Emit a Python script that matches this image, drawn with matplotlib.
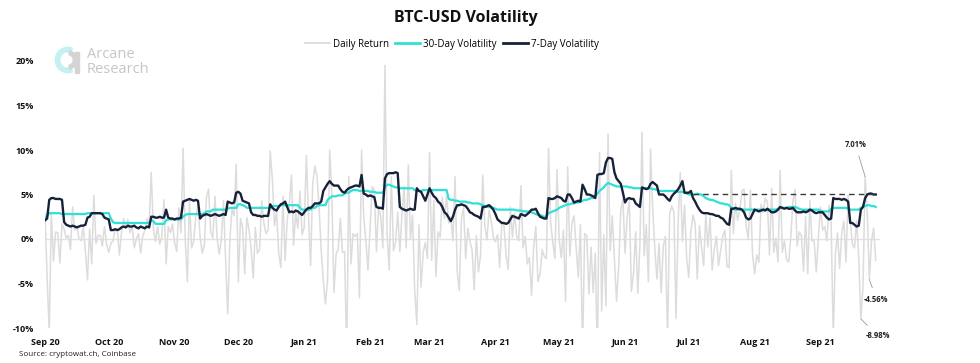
"""BTC-USD volatility chart: daily return, 30-day and 7-day volatility."""
import matplotlib
matplotlib.use("Agg")
import matplotlib.pyplot as plt
import matplotlib.dates as mdates
import matplotlib.ticker as mticker
from matplotlib.lines import Line2D
from matplotlib.patches import Wedge, Rectangle
import pandas as pd

plt.rcParams["font.family"] = ["Open Sans", "DejaVu Sans"]

START = "2020-09-01"

# ---- daily return (%), one row per month, Sep 2020 .. Sep 2021 ----
daily_return = [
    2.9, -4.3, -10.5, 3.0, -2.5, 0.8, 0.7, -2.7, 1.7, 1.1, 0.1, 0.4, -1.2, 3.6, 1.0, 1.5, 0.0, -0.2, 1.4, -1.4,
    -4.6, 1.1, -2.8, 4.9, -0.5, 0.4, 0.4, -0.8, 1.4, -0.6,
    -1.5, -0.5, -0.2, 1.1, 1.1, -1.8, 0.7, 2.3, 1.3, 2.2, 0.7, 1.5, -1.0, 0.0, 0.6, -1.6, 0.3, 1.0, 2.3, 1.4,
    7.5, 1.2, -0.3, 1.4, -0.6, 0.3, 4.4, -2.8, 1.4, 0.7, 1.7,
    -0.4, -1.4, 3.5, 0.7, 10.2, -0.1, -4.8, 4.4, -1.0, -0.2, 2.6, 3.7, 0.3, -1.6, -0.7, 4.7, 5.6, 0.8, 0.1, 4.8,
    0.1, -1.7, -0.1, 4.3, -2.3, -8.4, -0.1, 3.4, 2.6, 8.4,
    -4.8, 2.3, 1.3, -3.9, 2.4, 1.1, -1.0, -4.4, 1.3, -1.6, -1.2, 4.3, 1.8, 0.6, 1.0, 9.9, 6.7, 1.5, 3.1, -1.6,
    -3.2, 4.8, -2.4, 2.1, 3.9, 7.2, -0.7, 3.0, 1.2, 5.4, 0.5,
    1.3, 9.4, 2.7, -3.0, 6.2, 8.2, 7.1, 3.6, -1.3, -4.7, -7.3, -4.6, 10.0, 5.0, -6.0, -1.7, -1.1, 2.3, -1.5, -1.4,
    -13.3, 7.0, -2.8, 0.6, 0.3, 0.6, -6.6, 10.0, 2.5, -0.1, -3.5,
    1.3, 5.9, 5.5, -1.4, 3.7, 2.5, -1.0, 19.5, 0.6, -3.5, 7.0, -1.3, -0.4, 3.0, -1.4, 2.7, 5.9, -1.0, 8.3, 0.0,
    2.7, -5.7, -9.6, 1.6, -5.4, -1.5, -0.4, -2.2,
    9.7, -2.4, 4.3, -4.2, 0.8, 0.2, 4.7, 2.3, 4.8, 1.8, 2.5, -0.2, 7.0, -3.6, -5.8, 2.3, 3.5, -2.2, 1.2, -0.3,
    -1.2, -5.7, 0.4, -3.7, -1.9, 7.2, 1.5, -0.1, 3.2, 2.1, 0.2,
    -0.3, 0.5, -3.2, 1.9, 1.5, -1.8, -3.4, 3.6, 0.2, 2.9, 0.3, -0.2, 6.0, -1.0, 0.3, -2.8, -2.1, -6.3, -0.9, 1.4,
    -4.8, -3.9, -1.2, -2.0, -2.2, 10.2, 1.9, -0.4, -2.2, 7.8,
    0.0, -2.1, 1.0, -7.0, 8.1, -1.9, 1.8, 2.6, -1.0, -4.3, 1.6, -12.9, 0.6, 0.4, -6.2, -0.9, -6.0, -1.6, -13.7, 9.7,
    -8.1, 0.5, -7.5, 11.8, -1.3, 2.6, -2.3, -7.0, -3.1, 3.2, 4.5,
    -1.6, 2.5, 4.3, -5.9, -3.8, 0.8, -6.1, -0.6, 12.0, -1.9, 1.6, -4.8, 10.1, 3.6, -1.0, -4.5, -0.5, -6.0, -0.8, 0.3,
    -11.2, 2.8, 3.7, 3.0, -8.9, 1.9, 7.5, -0.3, 3.8, -2.2,
    -4.3, 0.9, 2.7, 1.7, -4.5, 1.5, -0.9, -3.0, 2.7, -0.9, 2.4, -3.5, -1.2, 0.3, -3.0, -1.3, 0.3, 1.0, -3.1, -3.2,
    7.7, 0.6, 4.0, 2.1, 3.2, 5.4, 5.6, 1.5, 0.0, 5.5, -1.7,
    -3.9, -1.8, -2.6, 3.9, 3.0, 4.6, 4.2, -1.8, 5.7, -1.5, 0.1, -2.6, 7.7, -1.5, -0.2, -2.3, -2.6, 0.2, 4.2, 5.6,
    -0.8, 0.8, 0.4, -3.6, 2.5, -3.9, 4.3, -0.2, -0.2, -3.7, 0.2,
    3.6, 1.0, 1.4, -0.2, 3.8, 1.7, -11.0, -1.7, 0.7, -3.3, 0.7, 2.0, -2.6, 4.9, 2.1, -0.6, -1.0, 2.1, -2.1, -8.98,
    -5.4, 7.01, 3.0, -4.56, -0.2, 1.2, -2.4,
]

# ---- 30-day volatility (%) ----
vol_30d = [
    2.3, 2.6, 2.9, 2.9, 2.9, 2.9, 2.9, 2.9, 2.8, 2.8, 2.8, 2.8, 2.8, 2.8, 2.8, 2.8, 2.8, 2.8, 2.8, 2.8,
    2.9, 2.9, 2.9, 2.9, 2.9, 2.9, 2.9, 2.9, 2.9, 2.9,
    2.9, 2.3, 1.9, 1.8, 1.8, 1.8, 1.8, 1.8, 1.8, 1.8, 1.8, 1.8, 1.8, 1.8, 1.8, 1.8, 1.8, 1.8, 1.8, 1.8,
    2.1, 2.0, 1.7, 1.7, 1.7, 1.7, 1.7, 2.1, 2.2, 2.2, 2.2,
    2.2, 2.2, 2.2, 2.2, 2.5, 2.7, 2.8, 2.8, 2.8, 2.8, 2.8, 2.8, 2.8, 2.8, 2.9, 3.1, 3.1, 3.1, 3.3, 3.3,
    3.3, 3.3, 3.3, 3.3, 3.3, 3.4, 3.5, 3.5, 3.5, 3.5,
    3.9, 3.9, 3.8, 3.7, 3.5, 3.5, 3.5, 3.5, 3.5, 3.5, 3.5, 3.5, 3.5, 3.5, 3.5, 3.6, 3.7, 3.7, 3.7, 3.7,
    3.8, 3.8, 3.8, 3.8, 3.8, 3.8, 3.8, 3.8, 3.8, 3.5, 3.3,
    3.3, 3.3, 3.3, 3.3, 3.5, 3.5, 3.7, 3.8, 3.8, 3.8, 3.8, 4.4, 4.6, 4.8, 4.8, 4.8, 4.9, 4.9, 4.9, 5.1,
    5.2, 5.2, 5.4, 5.5, 5.5, 5.5, 5.4, 5.4, 5.4, 5.4, 5.4,
    5.3, 5.3, 5.3, 5.2, 5.2, 5.2, 5.2, 5.8, 6.1, 6.1, 6.0, 5.9, 5.8, 5.8, 5.7, 5.7, 5.7, 5.7, 5.7, 5.7,
    5.7, 5.5, 5.4, 5.4, 5.4, 5.5, 5.5, 5.5,
    5.5, 5.5, 5.5, 5.5, 5.5, 5.5, 5.5, 5.5, 5.5, 4.5, 4.4, 4.4, 4.3, 4.3, 4.2, 4.2, 4.2, 4.2, 4.1, 4.1,
    4.0, 4.0, 4.0, 4.0, 3.9, 3.8, 3.7, 3.6, 3.6, 3.5, 3.5,
    3.4, 3.3, 3.3, 3.3, 3.3, 3.3, 3.3, 3.3, 3.3, 3.3, 3.2, 3.2, 3.2, 3.1, 3.1, 3.1, 3.1, 3.0, 2.9, 2.8,
    2.7, 2.7, 2.6, 2.5, 2.5, 2.9, 3.0, 3.1, 3.2, 3.3,
    3.5, 3.6, 3.7, 3.8, 3.9, 3.9, 4.0, 4.0, 4.1, 4.1, 4.2, 4.3, 4.4, 4.4, 4.5, 4.6, 4.6, 4.8, 5.1, 5.4,
    5.6, 5.8, 6.1, 6.3, 6.2, 6.1, 6.0, 5.9, 5.9, 5.9, 5.9,
    5.9, 5.9, 5.8, 5.8, 5.7, 5.7, 5.7, 5.7, 5.7, 5.7, 5.7, 5.7, 5.7, 5.6, 5.6, 5.5, 5.4, 5.4, 5.4, 5.4,
    5.4, 5.4, 5.4, 5.4, 5.4, 5.3, 5.3, 5.3, 5.2, 5.1,
    5.0, 5.0, 5.0, 5.0, 5.1, 5.0, 5.0, 4.8, 4.6, 4.5, 4.4, 4.4, 4.3, 4.2, 4.1, 4.0, 4.0, 3.9, 3.9, 3.8,
    3.5, 3.4, 3.3, 3.3, 3.3, 3.3, 3.3, 3.3, 3.3, 3.3, 3.3,
    3.3, 3.3, 3.3, 3.3, 3.3, 3.3, 3.3, 3.3, 3.3, 3.3, 3.3, 3.4, 3.5, 3.5, 3.5, 3.5, 3.6, 3.6, 3.6, 3.6,
    3.5, 3.4, 3.3, 3.3, 3.3, 3.3, 3.3, 3.3, 3.3, 3.3, 3.3,
    3.2, 3.1, 3.1, 3.1, 3.1, 3.4, 3.5, 3.5, 3.5, 3.5, 3.5, 3.5, 3.5, 3.4, 3.3, 3.3, 3.3, 3.3, 3.3, 3.5,
    3.6, 3.7, 3.8, 3.8, 3.7, 3.7, 3.6,
]

# ---- 7-day volatility (%) ----
vol_7d = [
    2.1, 2.3, 4.4, 4.6, 4.6, 4.5, 4.5, 4.5, 4.4, 1.9, 1.6, 1.5, 1.4, 1.5, 1.4, 1.3, 1.4, 1.5, 1.5, 1.6,
    2.4, 2.5, 2.9, 2.9, 2.9, 2.9, 2.9, 2.8, 2.4, 2.3,
    2.2, 1.0, 1.0, 1.1, 1.0, 1.1, 1.3, 1.4, 1.3, 1.5, 1.4, 1.4, 1.5, 1.3, 1.2, 1.4, 1.3, 1.2, 1.4, 1.3,
    2.5, 2.5, 2.4, 2.4, 2.5, 2.4, 2.4, 3.3, 2.4, 2.3, 2.3,
    2.2, 2.3, 2.3, 2.4, 4.2, 4.3, 4.4, 4.5, 4.4, 4.3, 4.4, 4.3, 2.3, 2.6, 2.7, 2.8, 2.7, 2.6, 2.7, 2.8,
    2.7, 2.6, 2.7, 2.8, 2.7, 4.2, 4.1, 4.0, 4.1, 5.2,
    5.3, 5.1, 4.3, 4.2, 4.1, 4.0, 3.0, 2.7, 2.7, 2.6, 2.6, 2.5, 2.6, 2.6, 2.6, 3.9, 3.5, 3.3, 3.2, 3.6,
    3.9, 4.0, 4.2, 3.6, 3.0, 3.1, 3.0, 3.2, 3.1, 2.9, 2.7,
    3.0, 3.3, 3.5, 3.5, 3.7, 4.0, 4.0, 4.0, 4.2, 5.4, 5.8, 6.2, 6.5, 6.2, 6.0, 6.0, 6.0, 5.6, 5.3, 5.2,
    5.5, 5.7, 5.8, 5.9, 6.0, 6.0, 5.9, 7.2, 5.1, 5.0, 4.8,
    4.9, 4.8, 4.7, 3.6, 3.5, 3.5, 3.4, 6.8, 7.3, 7.4, 7.4, 7.4, 7.5, 7.4, 3.6, 3.4, 3.3, 3.2, 3.3, 3.4,
    3.3, 3.3, 5.7, 5.4, 5.3, 4.8, 4.3, 5.0,
    5.7, 5.2, 4.8, 4.6, 4.2, 4.0, 3.6, 3.0, 2.8, 2.4, 2.0, 2.5, 3.3, 3.8, 3.8, 3.9, 3.8, 3.7, 3.4, 3.0,
    2.9, 2.7, 2.6, 2.5, 2.3, 3.6, 3.6, 3.7, 3.8, 3.6, 3.3,
    2.8, 2.2, 2.0, 1.8, 1.8, 1.7, 1.8, 2.2, 2.6, 2.5, 2.4, 2.3, 2.8, 2.7, 2.6, 2.8, 3.0, 3.3, 3.3, 3.4,
    2.9, 2.5, 2.4, 2.3, 2.3, 4.6, 4.5, 4.5, 4.6, 4.8,
    4.7, 4.6, 4.3, 4.2, 5.0, 5.0, 4.6, 4.1, 4.2, 4.3, 4.2, 6.1, 5.6, 5.0, 5.0, 4.9, 4.8, 4.6, 7.2, 7.3,
    7.3, 7.4, 8.6, 9.1, 9.1, 9.0, 7.5, 6.8, 6.5, 6.2, 5.2,
    4.1, 4.5, 4.6, 4.5, 4.5, 4.0, 3.8, 3.6, 5.8, 5.7, 5.6, 5.7, 6.2, 6.4, 6.2, 6.0, 5.0, 5.0, 5.0, 4.8,
    4.5, 4.3, 4.8, 5.1, 5.3, 5.6, 6.0, 6.5, 5.2, 5.2,
    5.2, 5.4, 4.6, 4.2, 3.7, 3.3, 3.0, 2.9, 2.9, 2.9, 2.8, 2.8, 2.7, 2.6, 2.6, 2.4, 2.3, 2.0, 1.7, 1.6,
    3.4, 3.4, 3.5, 3.4, 3.4, 3.3, 3.0, 2.4, 2.2, 2.3, 2.8,
    3.3, 3.2, 3.1, 3.2, 3.3, 3.2, 3.4, 3.2, 3.0, 3.0, 3.1, 3.3, 3.6, 3.5, 3.4, 3.5, 3.4, 3.4, 3.5, 3.2,
    3.0, 3.0, 3.0, 3.1, 3.0, 3.1, 3.3, 3.2, 3.0, 2.9, 3.0,
    3.0, 3.0, 2.7, 2.4, 2.2, 2.3, 4.6, 4.5, 4.5, 4.5, 4.4, 4.5, 4.4, 4.2, 1.8, 1.8, 1.6, 1.4, 1.5, 3.3,
    3.6, 4.6, 5.0, 5.1, 5.1, 5.0, 5.0,
]

# 虚线参考水平与标注
REF_LEVEL = 5.08
REF_FROM = "2021-07-03"
ANNOTATIONS = [("2021-09-22", 7.01), ("2021-09-24", -4.56), ("2021-09-20", -8.98)]

C_RET = "#dcdcdc"
C_30 = "#2fe0d6"
C_7 = "#172239"


def dates_for(series):
    return pd.date_range(START, periods=len(series), freq="D")


fig = plt.figure(figsize=(9.8, 3.63), dpi=100)
ax = fig.add_axes([45 / 980, 1 - 328 / 363, 835 / 980, 267 / 363])

ax.axhline(0, color="#e2e2e2", lw=1.0, zorder=1)
ax.plot(dates_for(daily_return), daily_return, color=C_RET, lw=1.1, zorder=2)
ax.plot(dates_for(vol_30d), vol_30d, color=C_30, lw=1.6, zorder=3)
ax.plot(dates_for(vol_7d), vol_7d, color=C_7, lw=1.7, zorder=4)

end_date = dates_for(vol_7d)[-1]
ax.hlines(REF_LEVEL, pd.Timestamp(REF_FROM), end_date, colors="#3a3a3a",
          linestyles=(0, (4, 3)), lw=1.0, zorder=5)

# 标注
offsets = {7.01: (-7, 23), -4.56: (5, -14), -8.98: (12, -12)}
for day, val in ANNOTATIONS:
    dx, dy = offsets[val]
    ax.annotate(f"{val:.2f}%", xy=(pd.Timestamp(day), val), xytext=(dx, dy),
                textcoords="offset points", ha="center", va="center",
                fontsize=5.5, fontweight="bold", color="#222222",
                arrowprops=dict(arrowstyle="-", color="#9a9a9a", lw=0.6,
                                shrinkA=3, shrinkB=0))

ax.set_xlim(pd.Timestamp(START), pd.Timestamp(START) + pd.Timedelta(days=393))
ax.set_ylim(-10, 20)
ax.yaxis.set_major_locator(mticker.MultipleLocator(5))
ax.yaxis.set_major_formatter(mticker.FuncFormatter(lambda v, p: f"{v:.0f}%"))
ax.xaxis.set_major_locator(mdates.MonthLocator())
ax.xaxis.set_major_formatter(mdates.DateFormatter("%b %y"))
ax.tick_params(length=0, labelsize=6.5, colors="#111111")
ax.tick_params(axis="y", pad=8)
ax.tick_params(axis="x", pad=7)
for lab in ax.get_xticklabels() + ax.get_yticklabels():
    lab.set_fontweight("bold")
for s in ax.spines.values():
    s.set_visible(False)

# 标题与图例
fig.text(466 / 980, 1 - 18 / 363, "BTC-USD Volatility", ha="center", va="center",
         fontsize=11.5, fontweight="bold", color="#111111")
handles = [
    Line2D([], [], color=C_RET, lw=1.3, label="Daily Return"),
    Line2D([], [], color=C_30, lw=2.0, label="30-Day Volatility"),
    Line2D([], [], color=C_7, lw=2.0, label="7-Day Volatility"),
]
fig.legend(handles=handles, loc="center", bbox_to_anchor=(452 / 980, 1 - 44 / 363),
           ncol=3, frameon=False, fontsize=7, handlelength=2.6, handletextpad=0.3,
           columnspacing=0.6)

# 来源
fig.text(19 / 980, 1 - 355 / 363, "Source: cryptowat.ch, Coinbase", ha="left", va="center",
         fontsize=5.8, color="#222222")

# logo
lax = fig.add_axes([54 / 980, 1 - 74 / 363, 28 / 980, 28 / 363])
lax.set_xlim(-1.1, 1.1)
lax.set_ylim(-1.1, 1.1)
lax.set_aspect("equal")
lax.axis("off")
lax.add_patch(Wedge((0, 0), 1.0, 70, 290, width=0.35, color="#c4f1f1"))
lax.add_patch(Wedge((0, 0), 0.72, -80, 80, width=0.3, color="#d4d4d4"))
lax.add_patch(Rectangle((0.55, -1.0), 0.35, 1.6, color="#d4d4d4"))
fig.text(87 / 980, 1 - 62 / 363, "Arcane\nResearch", ha="left", va="center",
         fontsize=10.5, color="#c6c6c6", linespacing=0.95)

fig.savefig("out.png", dpi=100)
